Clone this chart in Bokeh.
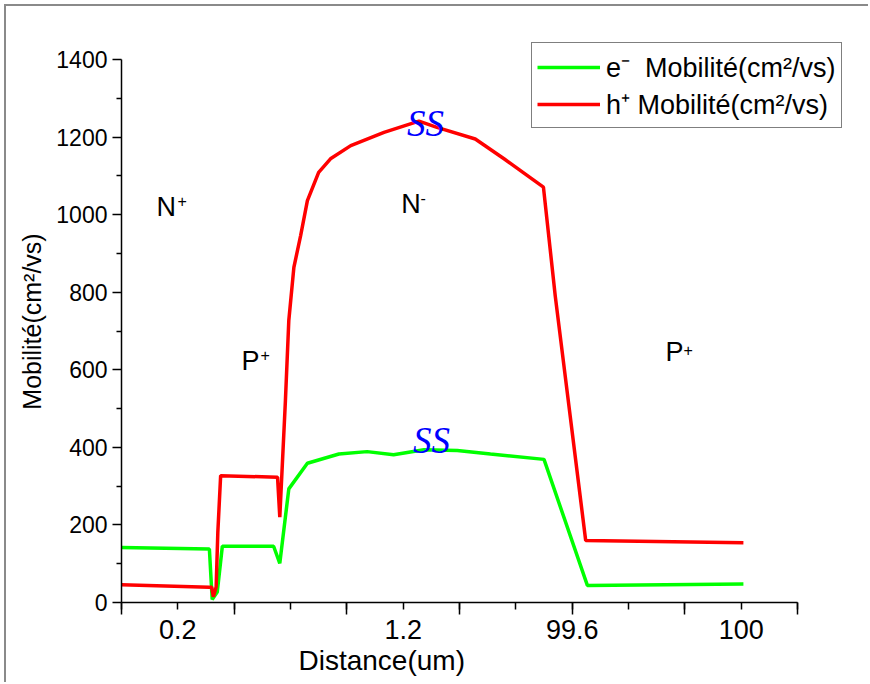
from bokeh.plotting import figure
from bokeh.models import Range1d, FixedTicker, Label, Legend, LegendItem, Title
from bokeh.embed import file_html
from bokeh.resources import INLINE

# ---- data (x in axis index units; tick labels placed on this index axis) ----
x_ticks = list(range(13))
x_tick_labels = {1: "0.2", 5: "1.2", 8: "99.6", 11: "100"}
y_ticks = [0, 200, 400, 600, 800, 1000, 1200, 1400]
y_minor = [100, 300, 500, 700, 900, 1100, 1300]

e_x = [0.0, 1.56, 1.61, 1.70, 1.79, 2.70, 2.81, 2.97, 3.30, 3.86, 4.36, 4.83,
       5.37, 5.96, 6.55, 7.50, 8.27, 11.04]
e_y = [142, 138, 8, 27, 145, 145, 101, 293, 359, 383, 389, 381,
       394, 392, 383, 369, 44, 48]

h_x = [0.0, 1.56, 1.60, 1.63, 1.68, 1.71, 1.76, 2.77, 2.81, 2.91, 2.97, 3.06,
       3.18, 3.30, 3.50, 3.71, 4.07, 4.66, 5.28, 5.60, 6.28, 6.79, 7.49, 7.70,
       8.24, 11.04]
h_y = [46, 39, 40, 15, 40, 181, 327, 323, 220, 521, 727, 864,
       946, 1036, 1109, 1144, 1178, 1212, 1241, 1225, 1195, 1144, 1071, 790,
       160, 154]

e_label = "e\u207b  Mobilité(cm²/vs)"
h_label = "h\u207a Mobilité(cm²/vs)"

FONT = "Liberation Sans"

# the plotting frame extends a bit past the axes (room for the legend);
# the axes themselves are bounded to 0..12 and 0..1400
p = figure(width=864, height=678, output_backend="svg", toolbar_location=None,
           x_range=Range1d(0, 13.225), y_range=Range1d(0, 1449),
           min_border_left=115, min_border_right=4, min_border_top=34,
           min_border_bottom=82)
p.styles = {"margin-left": "4px", "margin-top": "4px",
            "border-left": "2px solid #8a8a8a", "border-top": "2px solid #8a8a8a"}
p.outline_line_color = None
p.xgrid.visible = False
p.ygrid.visible = False

# y axis
ya = p.yaxis[0]
ya.bounds = (0, 1400)
ya.ticker = FixedTicker(ticks=y_ticks, minor_ticks=y_minor)
ya.major_tick_out = 9
ya.major_tick_in = 0
ya.minor_tick_out = 5
ya.minor_tick_in = 0
ya.axis_line_width = 1.5
ya.major_tick_line_width = 1.5
ya.minor_tick_line_width = 1.5
ya.axis_line_color = "black"
ya.major_label_text_font = FONT
ya.major_label_text_font_size = "23px"
ya.major_label_text_color = "black"
ya.major_label_standoff = 5
ya.axis_label = "Mobilité(cm²/vs)"
ya.axis_label_text_font = FONT
ya.axis_label_text_font_size = "25px"
ya.axis_label_text_font_style = "normal"
ya.axis_label_text_color = "black"
ya.axis_label_standoff = 7

# x axis
xa = p.xaxis[0]
xa.bounds = (0, 12)
xa.ticker = FixedTicker(ticks=x_ticks, minor_ticks=[t for t in x_ticks if t % 2 == 0])
xa.major_label_overrides = {t: x_tick_labels.get(t, "") for t in x_ticks}
xa.major_tick_out = 7
xa.major_tick_in = 0
xa.minor_tick_out = 12
xa.minor_tick_in = 0
xa.axis_line_width = 1.5
xa.major_tick_line_width = 1.5
xa.minor_tick_line_width = 1.5
xa.major_label_text_font = FONT
xa.major_label_text_font_size = "27px"
xa.major_label_text_color = "black"
xa.major_label_standoff = 5

# x axis title, offset left of the frame centre as in the reference
p.add_layout(Title(text="Distance(um)", align="left", offset=177,
                   text_font=FONT, text_font_size="28px", text_font_style="normal",
                   text_color="black", standoff=2), "below")

g = p.line(e_x, e_y, line_color="#00ff00", line_width=3.5)
r = p.line(h_x, h_y, line_color="#ff0000", line_width=3.5)

legend = Legend(items=[LegendItem(label=e_label, renderers=[g]),
                       LegendItem(label=h_label, renderers=[r])],
                location=(410, 474), border_line_color="black", border_line_width=1,
                background_fill_color="white", background_fill_alpha=1,
                padding=5, spacing=0, margin=0, glyph_width=63, glyph_height=26,
                label_height=26, label_standoff=6, label_text_color="black",
                label_text_font=FONT, label_text_font_size="27px")
p.add_layout(legend)

def txt(x, y, s, size):
    p.add_layout(Label(x=x, y=y, text=s, text_font=FONT, text_font_size=size,
                       text_color="black"))

# region annotations
txt(0.621, 980, "N", "27px")
txt(0.994, 1020, "+", "16px")
txt(2.130, 585, "P", "27px")
txt(2.468, 623, "+", "16px")
txt(4.965, 989, "N", "27px")
txt(5.308, 1028, "-", "16px")
txt(9.657, 607, "P", "27px")
txt(9.977, 636, "+", "16px")

for (sx, sy) in [(5.397, 1235), (5.503, 418)]:
    p.add_layout(Label(x=sx, y=sy, text="SS", text_font="Liberation Serif",
                       text_font_style="italic", text_font_size="37px",
                       text_color="#0000ff", text_align="center",
                       text_baseline="middle"))

open("out.html", "w").write(file_html(p, INLINE))
